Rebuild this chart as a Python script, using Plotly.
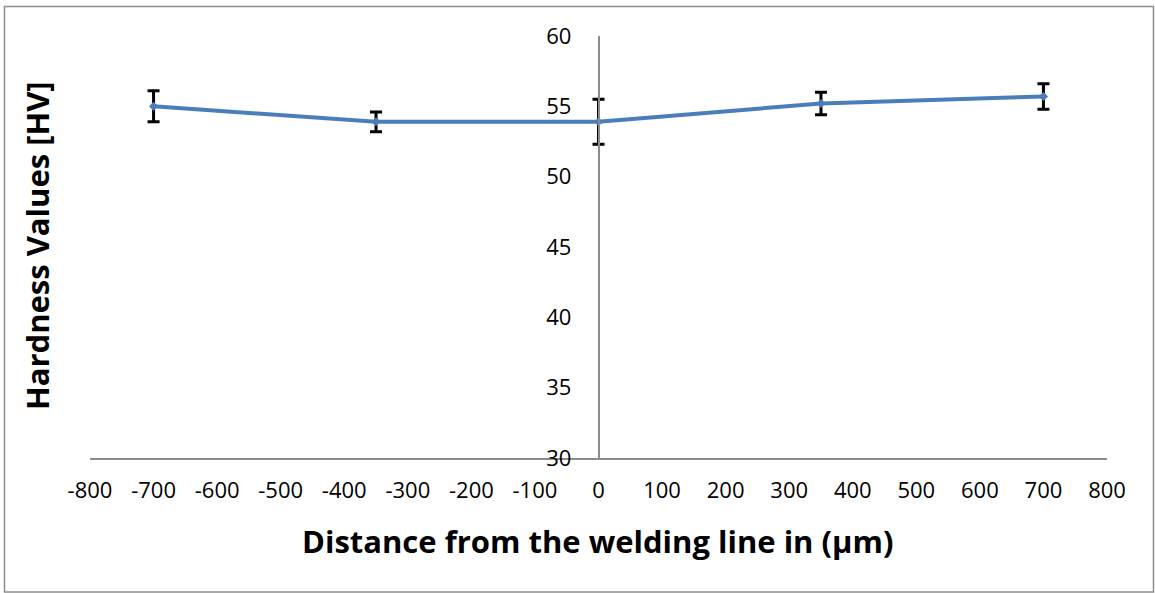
import plotly.graph_objects as go

# Hardness profile across the weld
distance_um = [-700, -350, 0, 350, 700]
hardness_hv = [55.0, 53.9, 53.9, 55.2, 55.7]
hardness_err = [1.1, 0.7, 1.6, 0.8, 0.9]

x_ticks = list(range(-800, 801, 100))
y_ticks = [30, 35, 40, 45, 50, 55, 60]

W, H = 1155, 593
L, R, T, B = 90, 48, 36, 135
pw, ph = W - L - R, H - T - B

FONT = "Open Sans"

fig = go.Figure()
fig.add_trace(go.Scatter(
    x=distance_um, y=hardness_hv,
    mode="lines+markers",
    line=dict(color="#4A7EBB", width=4),
    marker=dict(symbol="diamond", size=7, color="#4A7EBB"),
    error_y=dict(type="data", array=hardness_err, visible=True,
                 color="black", thickness=3, width=6),
    showlegend=False,
))

def px_x(v):
    return (v - L) / pw

def px_y(v):
    return (H - B - v) / ph

fig.update_layout(
    width=W, height=H,
    margin=dict(l=L, r=R, t=T, b=B),
    paper_bgcolor="white", plot_bgcolor="white",
    font=dict(family=FONT, color="black"),
    xaxis=dict(
        range=[-800, 800], tickvals=x_ticks, ticktext=[str(v) for v in x_ticks],
        showgrid=False, zeroline=False,
        showline=True, linecolor="#8C8C8C", linewidth=1.5,
        ticks="", tickfont=dict(size=22, family=FONT), ticklabelstandoff=12,
    ),
    yaxis=dict(
        range=[30, 60], tickvals=y_ticks,
        showgrid=False, zeroline=False,
        anchor="free", position=0.5,
        showline=True, linecolor="#8C8C8C", linewidth=1.5,
        ticks="", tickfont=dict(size=22, family=FONT), ticklabelstandoff=22,
    ),
    annotations=[
        dict(text="<b>Distance from the welding line in (µm)</b>",
             xref="paper", yref="paper", x=px_x(597), y=px_y(541),
             xanchor="center", yanchor="middle", showarrow=False,
             font=dict(size=31, family=FONT)),
        dict(text="<b>Hardness Values [HV]</b>",
             xref="paper", yref="paper", x=px_x(37), y=px_y(246),
             xanchor="center", yanchor="middle", showarrow=False, textangle=-90,
             font=dict(size=31, family=FONT)),
    ],
    shapes=[
        dict(type="rect", xref="paper", yref="paper",
             x0=px_x(4.5), x1=px_x(1153.5), y0=px_y(592), y1=px_y(6.5),
             line=dict(color="#8C8C8C", width=1.5), layer="below"),
    ],
)

fig.write_html("out.html")
